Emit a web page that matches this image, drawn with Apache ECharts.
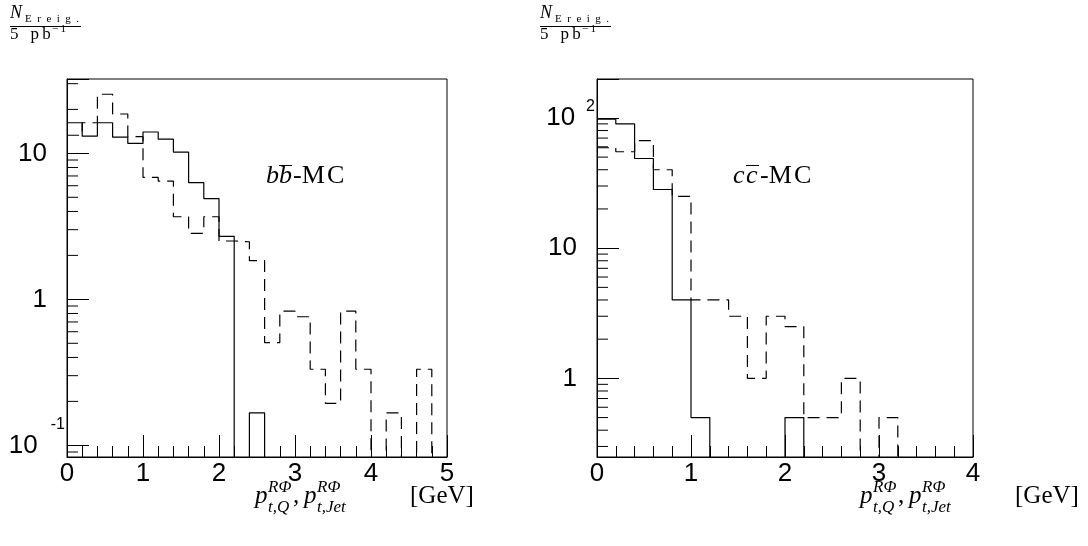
<!DOCTYPE html>
<html><head><meta charset="utf-8">
<script src="https://cdn.jsdelivr.net/npm/echarts@6/dist/echarts.min.js"></script>
<style>html,body{margin:0;padding:0;background:#fff}#c{width:1088px;height:546px}</style>
</head><body><div id="c"></div>
<script>
// ---------- data ----------
const edgesB = [0,0.2,0.4,0.6,0.8,1.0,1.2,1.4,1.6,1.8,2.0,2.2,2.4,2.6,2.8,3.0,3.2,3.4,3.6,3.8,4.0,4.2,4.4,4.6,4.8,5.0];
const solidB  = [16.2,13.1,16.2,12.9,11.7,14.0,12.5,10.2,6.3,4.9,2.7,0,0.167,0,0,0,0,0,0,0,0,0,0,0,0];
const dashedB = [13.3,16.2,25.4,18.6,13.0,6.85,6.46,3.68,2.83,3.68,2.51,2.48,1.84,0.505,0.83,0.76,0.332,0.194,0.83,0.332,0,0.167,0,0.332,0];
const edgesC = [0,0.2,0.4,0.6,0.8,1.0,1.2,1.4,1.6,1.8,2.0,2.2,2.4,2.6,2.8,3.0,3.2,3.4,3.6,3.8,4.0];
const solidC  = [98,90,48.8,28.2,4.0,0.5,0,0,0,0,0.5,0,0,0,0,0,0,0,0,0];
const dashedC = [59,55,67,40,25,4,4,3,1,3,2.5,0.5,0.5,1,0,0.5,0,0,0,0];
const xTicksB = [0,1,2,3,4,5];
const xTicksC = [0,1,2,3,4];
const yRangeB = [0.0832, 32.3];
const yRangeC = [0.249, 199];

// ---------- helpers ----------
const FLOOR = 1e-4;
function stepData(edges, vals) {
  const pts = vals.map((v, i) => [edges[i], v > 0 ? v : FLOOR]);
  pts.push([edges[edges.length - 1], vals[vals.length - 1] > 0 ? vals[vals.length - 1] : FLOOR]);
  return pts;
}
function minorVals(r) {
  const out = [];
  for (let e = -3; e <= 3; e++) for (let k = 2; k <= 9; k++) {
    const v = k * Math.pow(10, e);
    if (v > r[0] && v < r[1]) out.push(v);
  }
  return out;
}
function logFmt(v) {
  const l = Math.log10(v), r = Math.round(l);
  if (Math.abs(l - r) > 1e-6) return '';
  if (r === 0) return '{m|1}';
  if (r === 1) return '{m|10}';
  return '{a|10}{e|' + r + '}';
}
const SANS = '"Liberation Sans", Arial, sans-serif';
const SERIF = '"Liberation Serif", "DejaVu Serif", serif';

function xAxis(grid, ticks) {
  return {
    type: 'value', gridIndex: grid, min: ticks[0], max: ticks[ticks.length - 1], interval: 1,
    axisLine: {lineStyle: {color: '#000', width: 1}},
    axisTick: {inside: true, length: 22, lineStyle: {color: '#000', width: 1}},
    minorTick: {show: true, splitNumber: 5, length: 11, lineStyle: {color: '#000', width: 1}},
    splitLine: {show: false}, minorSplitLine: {show: false},
    axisLabel: {fontSize: 26, fontFamily: SANS, color: '#000', margin: 4}
  };
}
function yAxis(grid, range, expPad) {
  return {
    type: 'log', logBase: 10, gridIndex: grid, min: range[0], max: range[1],
    axisLine: {lineStyle: {color: '#000', width: 1}},
    axisTick: {inside: true, length: 22, lineStyle: {color: '#000', width: 1}},
    splitLine: {show: false},
    axisLabel: {
      margin: 2, formatter: logFmt,
      rich: {
        m: {fontSize: 26, fontFamily: SANS, color: '#000', padding: [0, 18, 0, 0]},
        a: {fontSize: 26, fontFamily: SANS, color: '#000', verticalAlign: 'middle'},
        e: {fontSize: 16, fontFamily: SANS, color: '#000', verticalAlign: 'top', padding: expPad}
      }
    }
  };
}
function histSeries(x, y, edges, vals, dashed) {
  return {
    type: 'line', xAxisIndex: x, yAxisIndex: y, step: 'end', data: stepData(edges, vals),
    showSymbol: false, symbol: 'none', clip: true, animation: false, silent: true,
    lineStyle: {color: '#000', width: 1.2, type: dashed ? [12, 7] : 'solid'}
  };
}
function minorTickSeries(x, y, range, x0) {
  return {
    type: 'custom', xAxisIndex: x, yAxisIndex: y, silent: true, animation: false,
    data: minorVals(range).map(v => [x0, v]),
    renderItem: (params, api) => {
      const p = api.coord([api.value(0), api.value(1)]);
      return {type: 'line', shape: {x1: p[0], y1: p[1], x2: p[0] + 11, y2: p[1]},
              style: {stroke: '#000', lineWidth: 1}};
    }
  };
}
function T(x, y, s, font, align) {
  return {type: 'text', x: x, y: y, silent: true,
          style: {text: s, font: font, fill: '#000', textAlign: align || 'left', textVerticalAlign: 'middle'}};
}
function L(x1, y1, x2, y2) {
  return {type: 'line', silent: true, shape: {x1, y1, x2, y2}, style: {stroke: '#000', lineWidth: 1}};
}
function fraction(x0) {
  return [
    T(x0, 13, 'N', 'italic 18px ' + SERIF),
    T(x0 + 15, 19, 'E\u2002r\u2002e\u2002i\u2002g\u2002.', '11px ' + SERIF),
    L(x0, 26.5, x0 + 71, 26.5),
    T(x0, 35, '5\u2002\u2009p\u2009b', '17px ' + SERIF),
    T(x0 + 42, 29, '\u2212\u20091', '11px ' + SERIF)
  ];
}
function axisTitle(x0, yb) {
  const big = 'italic 25px ' + SERIF, sm = 'italic 17px ' + SERIF;
  return [
    T(x0, yb - 9, 'p', big),
    T(x0 + 13, yb - 17, 'R\u03A6', sm),
    T(x0 + 13, yb + 3, 't,Q', sm),
    T(x0 + 38, yb - 9, ',', '25px ' + SERIF),
    T(x0 + 49, yb - 9, 'p', big),
    T(x0 + 62, yb - 17, 'R\u03A6', sm),
    T(x0 + 62, yb + 3, 't,Jet', sm),
    T(x0 + 155, yb - 9, '[GeV]', '25px ' + SERIF)
  ];
}
function procLabel(x0, q) {
  return [
    T(x0, 176, q, 'italic 26px ' + SERIF),
    T(x0 + 13, 176, q, 'italic 26px ' + SERIF),
    L(x0 + 13, 165.5, x0 + 26, 165.5),
    T(x0 + 27, 176, '-M\u200AC', '26px ' + SERIF)
  ];
}

const chart = echarts.init(document.getElementById('c'), null, {renderer: 'canvas'});
chart.setOption({
  animation: false,
  backgroundColor: '#fff',
  textStyle: {fontFamily: SANS},
  grid: [
    {left: 67, top: 79, width: 380, height: 378, show: true, borderColor: '#000', borderWidth: 1, backgroundColor: 'transparent'},
    {left: 597, top: 79, width: 376, height: 378, show: true, borderColor: '#000', borderWidth: 1, backgroundColor: 'transparent'}
  ],
  xAxis: [xAxis(0, xTicksB), xAxis(1, xTicksC)],
  yAxis: [yAxis(0, yRangeB, [0, 0, 42, 13]), yAxis(1, yRangeC, [0, 0, 22, 11])],
  series: [
    histSeries(0, 0, edgesB, solidB, false),
    histSeries(0, 0, edgesB, dashedB, true),
    histSeries(1, 1, edgesC, solidC, false),
    histSeries(1, 1, edgesC, dashedC, true),
    minorTickSeries(0, 0, yRangeB, 0),
    minorTickSeries(1, 1, yRangeC, 0)
  ],
  graphic: [].concat(
    fraction(10), fraction(540),
    axisTitle(255, 505), axisTitle(860, 505),
    procLabel(266, 'b'), procLabel(733, 'c')
  )
});
</script></body></html>
